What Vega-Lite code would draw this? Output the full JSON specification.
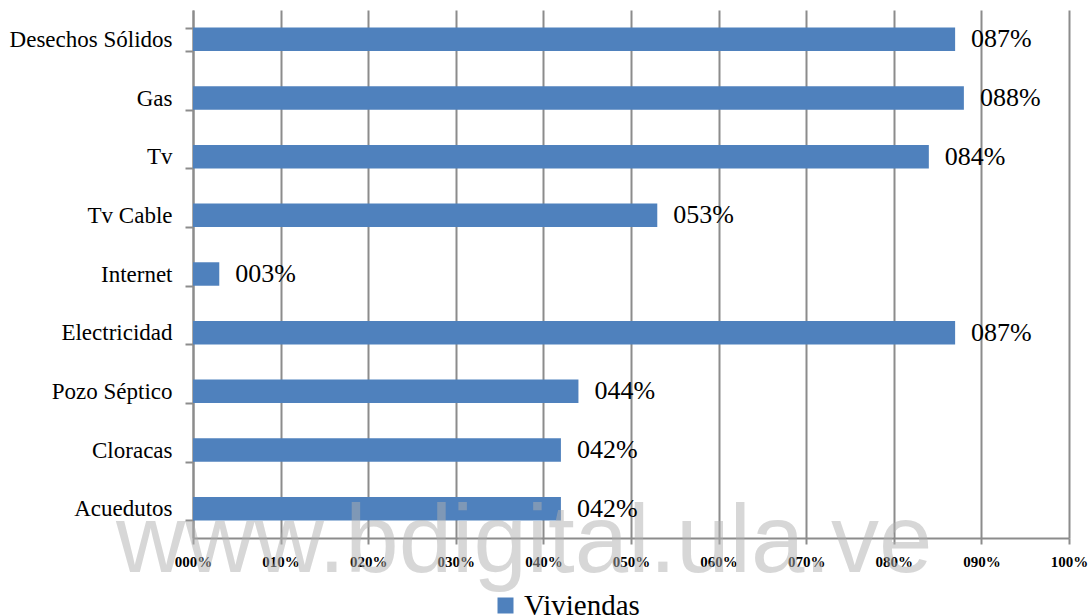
{
  "$schema": "https://vega.github.io/schema/vega-lite/v6.json",
  "width": 876,
  "height": 528,
  "autosize": {"type": "none"},
  "padding": {"left": 193, "top": 10, "right": 23, "bottom": 78},
  "background": "white",
  "config": {"view": {"stroke": null}, "font": "Liberation Serif"},
  "datasets": {
    "servicios": [
      {"servicio": "Desechos Sólidos", "valor": 0.87, "serie": "Viviendas"},
      {"servicio": "Gas", "valor": 0.88, "serie": "Viviendas"},
      {"servicio": "Tv", "valor": 0.84, "serie": "Viviendas"},
      {"servicio": "Tv Cable", "valor": 0.53, "serie": "Viviendas"},
      {"servicio": "Internet", "valor": 0.03, "serie": "Viviendas"},
      {"servicio": "Electricidad", "valor": 0.87, "serie": "Viviendas"},
      {"servicio": "Pozo Séptico", "valor": 0.44, "serie": "Viviendas"},
      {"servicio": "Cloracas", "valor": 0.42, "serie": "Viviendas"},
      {"servicio": "Acuedutos", "valor": 0.42, "serie": "Viviendas"}
    ]
  },
  "data": {"name": "servicios"},
  "encoding": {
    "y": {
      "field": "servicio",
      "type": "nominal",
      "sort": null,
      "scale": {"paddingInner": 0.6, "paddingOuter": 0.3},
      "axis": {
        "title": null,
        "labelFont": "Liberation Serif",
        "labelFontSize": 23,
        "labelColor": "#000000",
        "labelPadding": 13,
        "tickBand": "extent",
        "tickSize": 8,
        "tickWidth": 2,
        "tickColor": "#8c8c8c",
        "domainColor": "#8c8c8c",
        "domainWidth": 2,
        "grid": false
      }
    },
    "x": {
      "field": "valor",
      "type": "quantitative",
      "scale": {"domain": [0, 1], "nice": false},
      "axis": {
        "title": null,
        "format": "04.0%",
        "values": [0, 0.1, 0.2, 0.3, 0.4, 0.5, 0.6, 0.7, 0.8, 0.9, 1],
        "labelFont": "Liberation Serif",
        "labelFontWeight": "bold",
        "labelFontSize": 15,
        "labelColor": "#000000",
        "labelPadding": 10,
        "labelFlush": false,
        "grid": true,
        "gridColor": "#8c8c8c",
        "gridWidth": 2,
        "tickSize": 6,
        "tickWidth": 2,
        "tickColor": "#8c8c8c",
        "domainColor": "#8c8c8c",
        "domainWidth": 2
      }
    }
  },
  "layer": [
    {
      "mark": {"type": "bar"},
      "encoding": {
        "color": {
          "field": "serie",
          "type": "nominal",
          "scale": {"range": ["#4f81bd"]},
          "legend": {
            "title": null,
            "orient": "none",
            "legendX": 298,
            "legendY": 581,
            "labelFont": "Liberation Serif",
            "labelFontSize": 29,
            "labelColor": "#000000",
            "labelOffset": 4,
            "symbolType": "square",
            "symbolSize": 256,
            "symbolStrokeWidth": 0,
            "symbolOpacity": 1
          }
        }
      }
    },
    {
      "data": {"values": [{"servicio": "Acuedutos", "valor": 0.378, "texto": "www.bdigital.ula.ve"}]},
      "mark": {
        "type": "text",
        "align": "center",
        "baseline": "alphabetic",
        "dy": 63,
        "font": "Liberation Sans",
        "fontSize": 96,
        "fill": "#b0b0b0",
        "fillOpacity": 0.5
      },
      "encoding": {
        "text": {"field": "texto", "type": "nominal"}
      }
    },
    {
      "mark": {
        "type": "text",
        "align": "left",
        "baseline": "middle",
        "dx": 16,
        "font": "Liberation Serif",
        "fontSize": 26,
        "color": "#000000"
      },
      "encoding": {
        "text": {"field": "valor", "type": "quantitative", "format": "04.0%"}
      }
    }
  ]
}
